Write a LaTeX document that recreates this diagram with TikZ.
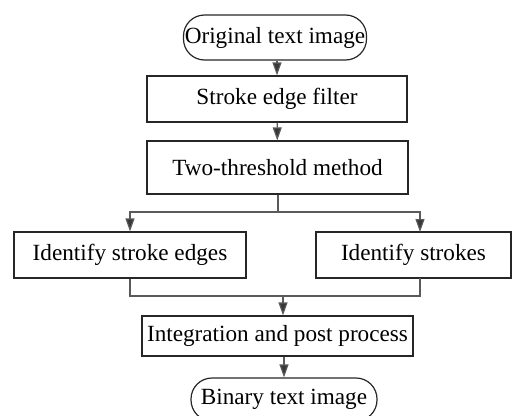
\documentclass[tikz,border=0pt]{standalone}
\usepackage{fontspec}
\setmainfont{Liberation Serif}
\usepackage{tikz}
\usetikzlibrary{arrows.meta}
\definecolor{linegray}{HTML}{5A5A5A}
\definecolor{tipgray}{HTML}{383838}
\tikzstyle{stepbox} = [rectangle, draw=black!85, line width=1.2pt, inner sep=0pt, align=center, font=\fontsize{23.2}{26}\selectfont]
\tikzstyle{term} = [stepbox, rounded corners=21pt]
\tikzstyle{flow} = [draw=linegray, line width=1.2pt, -{Triangle[length=13pt,width=9pt,fill=tipgray]}]
\tikzstyle{link} = [draw=linegray, line width=1.2pt]

\begin{document}
\begin{tikzpicture}[x=1pt, y=-1pt]
\clip (0,0) rectangle (513,415);
\useasboundingbox (0,0) rectangle (513,415);

% Start and end terminals
\node[term, minimum width=183pt, minimum height=45pt] (n1) at (275, 37.5) {Original text image};
\node[term, minimum width=186pt, minimum height=43pt] (n7) at (284, 399.5) {Binary text image};
% Processing steps
\node[stepbox, minimum width=260pt, minimum height=46pt] (n2) at (277, 99) {Stroke edge filter};
\node[stepbox, minimum width=261pt, minimum height=53pt] (n3) at (277.5, 167.5) {Two-threshold method};
\node[stepbox, minimum width=232pt, minimum height=46pt] (n4) at (130, 255) {Identify stroke edges};
\node[stepbox, minimum width=195pt, minimum height=46pt] (n5) at (413.5, 255) {Identify strokes};
\node[stepbox, minimum width=271pt, minimum height=40pt] (n6) at (277.5, 336) {Integration and post process};

% Split and merge points
\coordinate (c1) at (278, 212);
\coordinate (c2) at (283, 296);
\coordinate (c3) at (420, 232);
\coordinate (c4) at (420, 278);

% Main flow
\draw[flow] (n1.south -| n2.north) -- (n2.north);
\draw[flow] (n2) -- (n3);
% Branch into the two identifications
\draw[link] (n3.south -| c1) -- (c1);
\draw[flow] (c1) -| (n4.north);
\draw[flow] (c1) -| (c3);
% Merge results
\draw[link] (n4.south) |- (c2) -| (c4);
\draw[flow] (c2) -- (n6.north -| c2);
\draw[flow] (n6.south -| n7.north) -- (n7.north);
\end{tikzpicture}
\end{document}
